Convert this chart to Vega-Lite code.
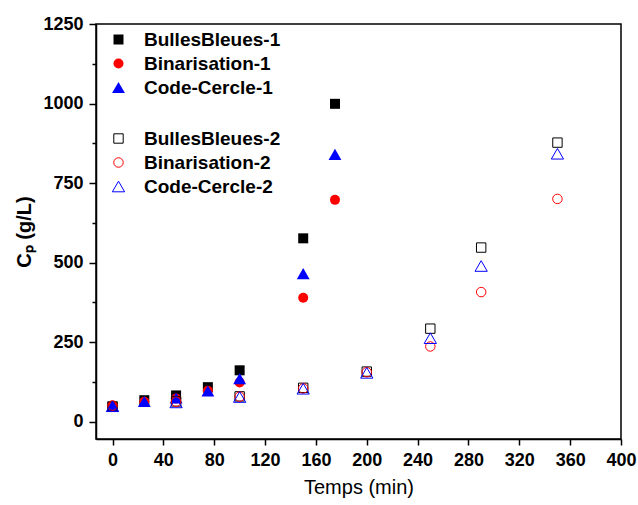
{
  "$schema": "https://vega.github.io/schema/vega-lite/v6.json",
  "width": 525,
  "height": 415,
  "autosize": {"type": "none"},
  "padding": {"left": 96, "top": 24, "right": 17, "bottom": 66},
  "background": "white",
  "config": {
    "font": "Liberation Sans",
    "view": {"stroke": "black", "strokeWidth": 1.5},
    "axis": {
      "grid": false,
      "domainColor": "black",
      "domainWidth": 1.5,
      "tickColor": "black",
      "tickWidth": 1.5,
      "labelColor": "black",
      "labelFont": "Liberation Sans",
      "labelFontSize": 18,
      "labelFontWeight": "bold",
      "titleColor": "black",
      "titleFont": "Liberation Sans"
    },
    "legend": {
      "labelFont": "Liberation Sans",
      "labelFontSize": 19,
      "labelFontWeight": "bold",
      "labelColor": "black",
      "symbolStrokeWidth": 1,
      "labelOffset": 16,
      "rowPadding": 4,
      "padding": 0
    }
  },
  "datasets": {
    "g1": [
      {"series": "BullesBleues-1", "t": 0, "cp": 47},
      {"series": "BullesBleues-1", "t": 25, "cp": 67},
      {"series": "BullesBleues-1", "t": 50, "cp": 82},
      {"series": "BullesBleues-1", "t": 75, "cp": 108},
      {"series": "BullesBleues-1", "t": 100, "cp": 161},
      {"series": "BullesBleues-1", "t": 150, "cp": 576},
      {"series": "BullesBleues-1", "t": 175, "cp": 999},
      {"series": "Binarisation-1", "t": 0, "cp": 50},
      {"series": "Binarisation-1", "t": 25, "cp": 62},
      {"series": "Binarisation-1", "t": 50, "cp": 72},
      {"series": "Binarisation-1", "t": 75, "cp": 97},
      {"series": "Binarisation-1", "t": 100, "cp": 123},
      {"series": "Binarisation-1", "t": 150, "cp": 389},
      {"series": "Binarisation-1", "t": 175, "cp": 697},
      {"series": "Code-Cercle-1", "t": 0, "cp": 48},
      {"series": "Code-Cercle-1", "t": 25, "cp": 63},
      {"series": "Code-Cercle-1", "t": 50, "cp": 74},
      {"series": "Code-Cercle-1", "t": 75, "cp": 96},
      {"series": "Code-Cercle-1", "t": 100, "cp": 135},
      {"series": "Code-Cercle-1", "t": 150, "cp": 465},
      {"series": "Code-Cercle-1", "t": 175, "cp": 840}
    ],
    "g2": [
      {"series": "BullesBleues-2", "t": 0, "cp": 47},
      {"series": "BullesBleues-2", "t": 50, "cp": 63},
      {"series": "BullesBleues-2", "t": 100, "cp": 79},
      {"series": "BullesBleues-2", "t": 150, "cp": 106},
      {"series": "BullesBleues-2", "t": 200, "cp": 157},
      {"series": "BullesBleues-2", "t": 250, "cp": 292},
      {"series": "BullesBleues-2", "t": 290, "cp": 547},
      {"series": "BullesBleues-2", "t": 350, "cp": 877},
      {"series": "Binarisation-2", "t": 0, "cp": 50},
      {"series": "Binarisation-2", "t": 50, "cp": 62},
      {"series": "Binarisation-2", "t": 100, "cp": 78},
      {"series": "Binarisation-2", "t": 150, "cp": 104},
      {"series": "Binarisation-2", "t": 200, "cp": 155},
      {"series": "Binarisation-2", "t": 250, "cp": 236},
      {"series": "Binarisation-2", "t": 290, "cp": 407},
      {"series": "Binarisation-2", "t": 350, "cp": 700},
      {"series": "Code-Cercle-2", "t": 0, "cp": 48},
      {"series": "Code-Cercle-2", "t": 50, "cp": 60},
      {"series": "Code-Cercle-2", "t": 100, "cp": 77},
      {"series": "Code-Cercle-2", "t": 150, "cp": 103},
      {"series": "Code-Cercle-2", "t": 200, "cp": 153},
      {"series": "Code-Cercle-2", "t": 250, "cp": 262},
      {"series": "Code-Cercle-2", "t": 290, "cp": 489},
      {"series": "Code-Cercle-2", "t": 350, "cp": 842}
    ]
  },
  "layer": [
    {
      "data": {"name": "g1"},
      "mark": {"type": "point", "filled": true, "opacity": 1},
      "encoding": {
        "x": {
          "field": "t", "type": "quantitative",
          "scale": {"domain": [-13, 400], "nice": false, "zero": false},
          "axis": {
            "title": "Temps (min)",
            "titleFontSize": 20,
            "titleFontWeight": "normal",
            "titlePadding": 8,
            "format": "d",
            "values": [0, 20, 40, 60, 80, 100, 120, 140, 160, 180, 200, 220, 240, 260, 280, 300, 320, 340, 360, 380, 400],
            "labelExpr": "datum.value % 40 === 0 ? datum.label : ''",
            "labelOverlap": false,
            "labelFlush": false,
            "labelPadding": 6,
            "tickSize": {"condition": {"test": "datum.value % 40 === 0", "value": 6}, "value": 3}
          }
        },
        "y": {
          "field": "cp", "type": "quantitative",
          "scale": {"domain": [-55, 1250], "nice": false, "zero": false},
          "axis": {
            "title": "Cₚ (g/L)",
            "titleFontSize": 20,
            "titleFontWeight": "bold",
            "titlePadding": 8,
            "format": "d",
            "values": [0, 125, 250, 375, 500, 625, 750, 875, 1000, 1125, 1250],
            "labelExpr": "datum.value % 250 === 0 ? datum.label : ''",
            "labelOverlap": false,
            "labelFlush": false,
            "labelPadding": 6,
            "tickSize": {"condition": {"test": "datum.value % 250 === 0", "value": 7}, "value": 4}
          }
        },
        "color": {
          "field": "series", "type": "nominal",
          "scale": {"domain": ["BullesBleues-1", "Binarisation-1", "Code-Cercle-1"], "range": ["#000000", "#ff0000", "#0000ff"]},
          "legend": {"title": null, "orient": "none", "legendX": 13, "legendY": 6}
        },
        "shape": {
          "field": "series", "type": "nominal",
          "scale": {"domain": ["BullesBleues-1", "Binarisation-1", "Code-Cercle-1"], "range": ["square", "circle", "triangle-up"]},
          "legend": {"title": null, "orient": "none", "legendX": 13, "legendY": 6}
        },
        "size": {
          "field": "series", "type": "nominal",
          "scale": {"type": "ordinal", "domain": ["BullesBleues-1", "Binarisation-1", "Code-Cercle-1"], "range": [100, 100, 165]},
          "legend": {"title": null, "orient": "none", "legendX": 13, "legendY": 6}
        }
      }
    },
    {
      "data": {"name": "g2"},
      "mark": {"type": "point", "filled": false, "strokeWidth": 1, "opacity": 1},
      "encoding": {
        "x": {"field": "t", "type": "quantitative"},
        "y": {"field": "cp", "type": "quantitative"},
        "color": {
          "field": "series", "type": "nominal",
          "scale": {"domain": ["BullesBleues-2", "Binarisation-2", "Code-Cercle-2"], "range": ["#000000", "#ff0000", "#0000ff"]},
          "legend": {"title": null, "orient": "none", "legendX": 13, "legendY": 105}
        },
        "shape": {
          "field": "series", "type": "nominal",
          "scale": {"domain": ["BullesBleues-2", "Binarisation-2", "Code-Cercle-2"], "range": ["square", "circle", "triangle-up"]},
          "legend": {"title": null, "orient": "none", "legendX": 13, "legendY": 105}
        },
        "size": {
          "field": "series", "type": "nominal",
          "scale": {"type": "ordinal", "domain": ["BullesBleues-2", "Binarisation-2", "Code-Cercle-2"], "range": [88, 90, 150]},
          "legend": {"title": null, "orient": "none", "legendX": 13, "legendY": 105}
        }
      }
    }
  ],
  "resolve": {"scale": {"color": "independent", "shape": "independent", "size": "independent"}}
}
